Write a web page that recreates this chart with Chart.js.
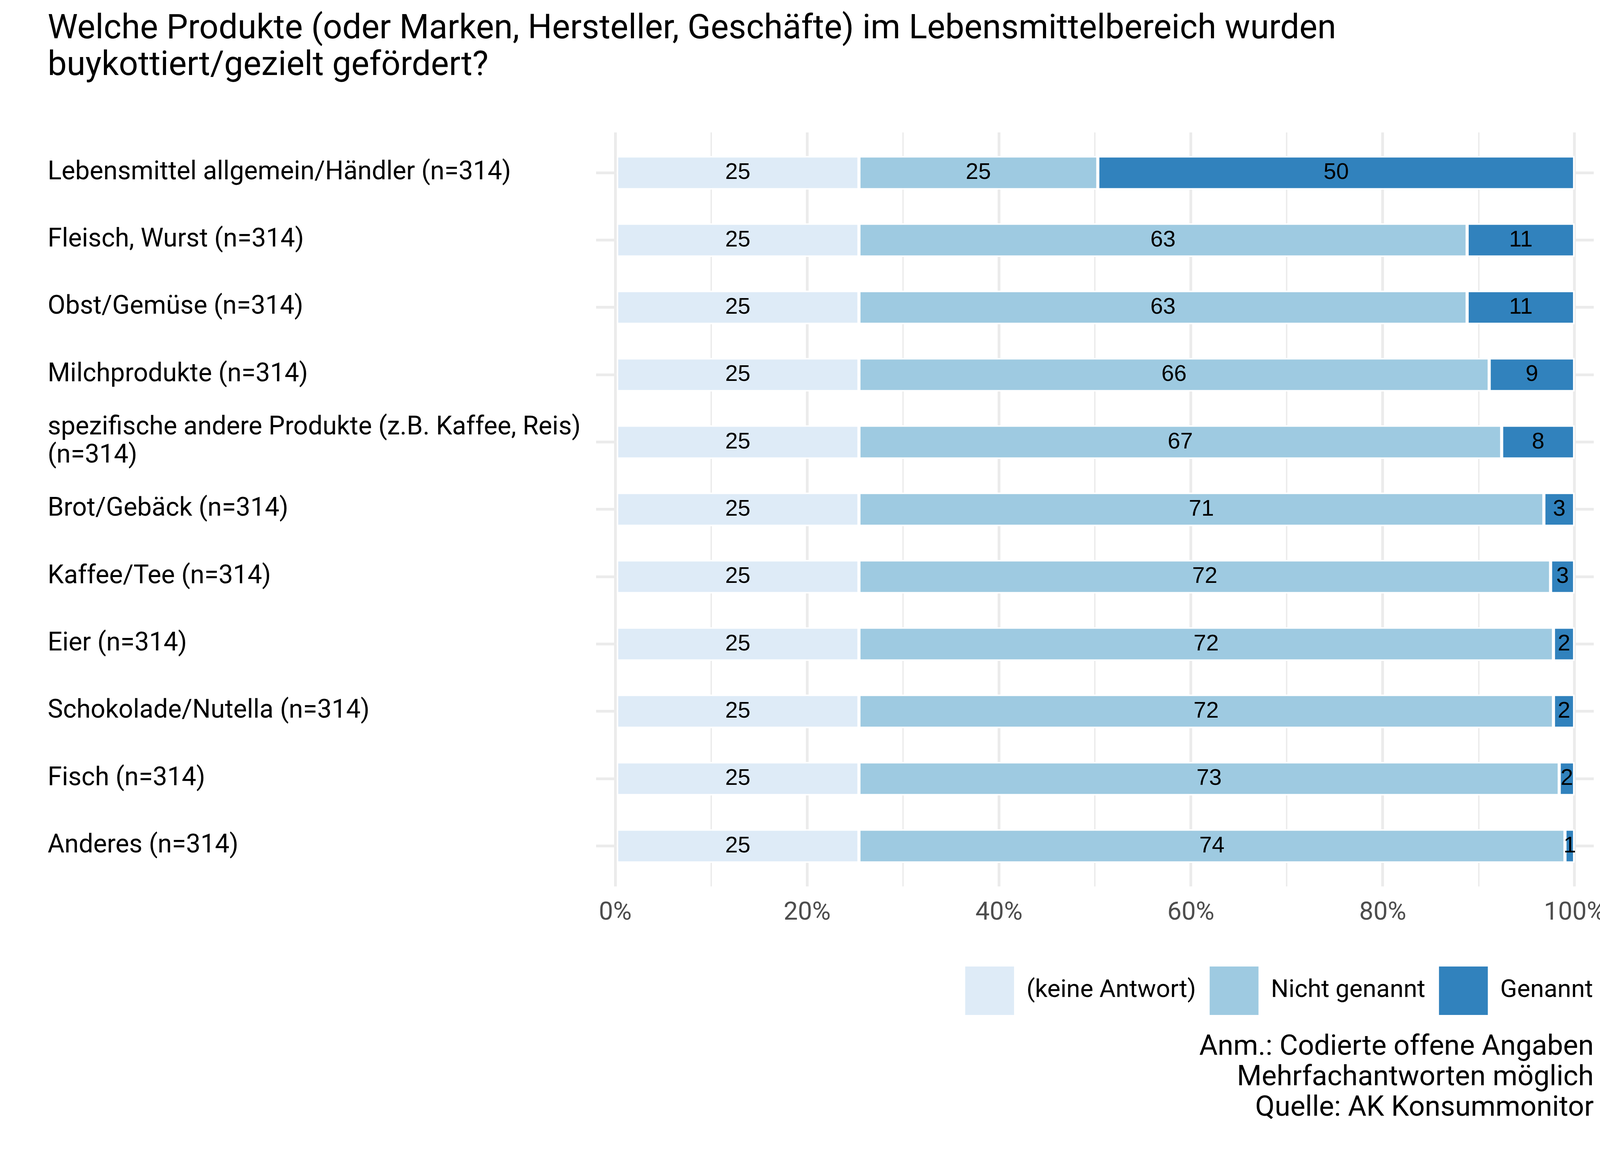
<!DOCTYPE html>
<html lang="de">
<head>
    <meta charset="UTF-8">
    <title>Buykott Lebensmittel</title>
    <script src="https://cdn.jsdelivr.net/npm/chart.js"></script>
    <style>
        html, body {
            margin: 0;
            padding: 0;
            background: #ffffff;
            overflow: hidden;
        }
        #wrap {
            width: 4200px;
            height: 3000px;
        }
        #wrap canvas {
            display: block;
        }
    </style>
</head>
<body>
    <div id="wrap"><canvas id="chart"></canvas></div>

    <script>
        // Kategorien (von oben nach unten)
        const rowLabels = [
            'Lebensmittel allgemein/Händler (n=314)',
            'Fleisch, Wurst (n=314)',
            'Obst/Gemüse (n=314)',
            'Milchprodukte (n=314)',
            ['spezifische andere Produkte (z.B. Kaffee, Reis)', '(n=314)'],
            'Brot/Gebäck (n=314)',
            'Kaffee/Tee (n=314)',
            'Eier (n=314)',
            'Schokolade/Nutella (n=314)',
            'Fisch (n=314)',
            'Anderes (n=314)'
        ];

        // Anteile in %
        const keineAntwort = [25.4, 25.4, 25.4, 25.4, 25.4, 25.4, 25.4, 25.4, 25.4, 25.4, 25.4];
        const nichtGenannt = [24.9, 63.4, 63.4, 65.7, 67.0, 71.4, 72.1, 72.4, 72.4, 73.0, 73.6];
        const genannt = [49.7, 11.2, 11.2, 8.9, 7.6, 3.2, 2.5, 2.2, 2.2, 1.6, 1.0];

        const seriesNames = ['(keine Antwort)', 'Nicht genannt', 'Genannt'];
        const seriesColors = ['#deebf7', '#9ecae1', '#3182bd'];

        const xTicks = [0, 10, 20, 30, 40, 50, 60, 70, 80, 90, 100];

        const titleLines = [
            'Welche Produkte (oder Marken, Hersteller, Geschäfte) im Lebensmittelbereich wurden',
            'buykottiert/gezielt gefördert?'
        ];
        const captionLines = [
            'Anm.: Codierte offene Angaben',
            'Mehrfachantworten möglich',
            'Quelle: AK Konsummonitor'
        ];

        const GRID = '#ebebeb';

        function toPoints(values) {
            return values.map((v, i) => ({ x: v, y: i }));
        }

        // Zahlen mittig in die Balkensegmente schreiben
        const barLabels = {
            id: 'barLabels',
            afterDatasetsDraw(chart) {
                const ctx = chart.ctx;
                ctx.save();
                ctx.font = '58px "Liberation Sans", Arial, sans-serif';
                ctx.fillStyle = '#000000';
                ctx.textAlign = 'center';
                ctx.textBaseline = 'middle';
                chart.data.datasets.forEach((ds, di) => {
                    const meta = chart.getDatasetMeta(di);
                    meta.data.forEach((bar, i) => {
                        const p = bar.getProps(['x', 'y', 'base'], true);
                        ctx.fillText(String(Math.round(ds.data[i].x)), (p.x + p.base) / 2, p.y);
                    });
                });
                ctx.restore();
            }
        };

        // Legende etwas nach rechts an den Rand der Anmerkung schieben
        const legendShift = {
            id: 'legendShift',
            afterLayout(chart) {
                if (chart.legend) {
                    chart.legend.left += 33;
                    chart.legend.right += 33;
                }
            }
        };

        const ctx = document.getElementById('chart').getContext('2d');
        new Chart(ctx, {
            type: 'bar',
            data: {
                datasets: [keineAntwort, nichtGenannt, genannt].map((vals, k) => ({
                    label: seriesNames[k],
                    data: toPoints(vals),
                    backgroundColor: seriesColors[k],
                    borderColor: '#ffffff',
                    borderWidth: 4,
                    borderSkipped: false,
                    barPercentage: 0.5,
                    categoryPercentage: 1.0
                }))
            },
            options: {
                indexAxis: 'y',
                responsive: true,
                maintainAspectRatio: false,
                devicePixelRatio: 1,
                animation: false,
                layout: {
                    padding: { left: 122, right: 120, top: 0, bottom: 0 }
                },
                scales: {
                    x: {
                        type: 'linear',
                        stacked: true,
                        offset: false,
                        min: -2,
                        max: 102,
                        afterBuildTicks: (axis) => {
                            axis.ticks = xTicks.map(v => ({ value: v }));
                        },
                        afterFit: (axis) => {
                            axis.height = 170;
                        },
                        border: { display: false },
                        grid: {
                            color: GRID,
                            drawTicks: false,
                            offset: false,
                            lineWidth: (c) => (c.tick && c.tick.value % 20 === 0 ? 7 : 3.5)
                        },
                        ticks: {
                            autoSkip: false,
                            maxRotation: 0,
                            padding: 30,
                            color: '#4d4d4d',
                            font: { family: 'Roboto', size: 65 },
                            callback: (v) => (v % 20 === 0 ? v + '%' : '')
                        }
                    },
                    y: {
                        type: 'linear',
                        stacked: true,
                        reverse: true,
                        offset: false,
                        min: -0.6,
                        max: 10.6,
                        afterBuildTicks: (axis) => {
                            axis.ticks = rowLabels.map((_, i) => ({ value: i }));
                        },
                        afterFit: (axis) => {
                            axis.width = 1404;
                        },
                        border: { display: false },
                        grid: {
                            color: GRID,
                            lineWidth: 7,
                            drawTicks: false,
                            offset: false
                        },
                        ticks: {
                            autoSkip: false,
                            crossAlign: 'far',
                            padding: 20,
                            color: '#000000',
                            font: { family: 'Roboto', size: 66, lineHeight: 1.1 },
                            callback: (v) => rowLabels[v]
                        }
                    }
                },
                plugins: {
                    title: {
                        display: true,
                        text: titleLines,
                        align: 'start',
                        color: '#000000',
                        font: { family: 'Roboto', size: 87, weight: 'normal', lineHeight: 1.08 },
                        padding: { top: 29, bottom: 122 }
                    },
                    subtitle: {
                        display: true,
                        position: 'bottom',
                        text: captionLines,
                        align: 'end',
                        color: '#000000',
                        font: { family: 'Roboto', size: 72.5, weight: 'normal', lineHeight: 1.076 },
                        padding: { top: 35, bottom: 123 }
                    },
                    legend: {
                        display: true,
                        position: 'bottom',
                        align: 'end',
                        labels: {
                            boxWidth: 125,
                            boxHeight: 124,
                            padding: 35,
                            color: '#000000',
                            font: { family: 'Roboto', size: 63.5 },
                            generateLabels: (chart) => Chart.defaults.plugins.legend.labels
                                .generateLabels(chart)
                                .map(item => Object.assign(item, { lineWidth: 0 }))
                        }
                    },
                    tooltip: { enabled: false }
                }
            },
            plugins: [barLabels, legendShift]
        });
    </script>
</body>
</html>
